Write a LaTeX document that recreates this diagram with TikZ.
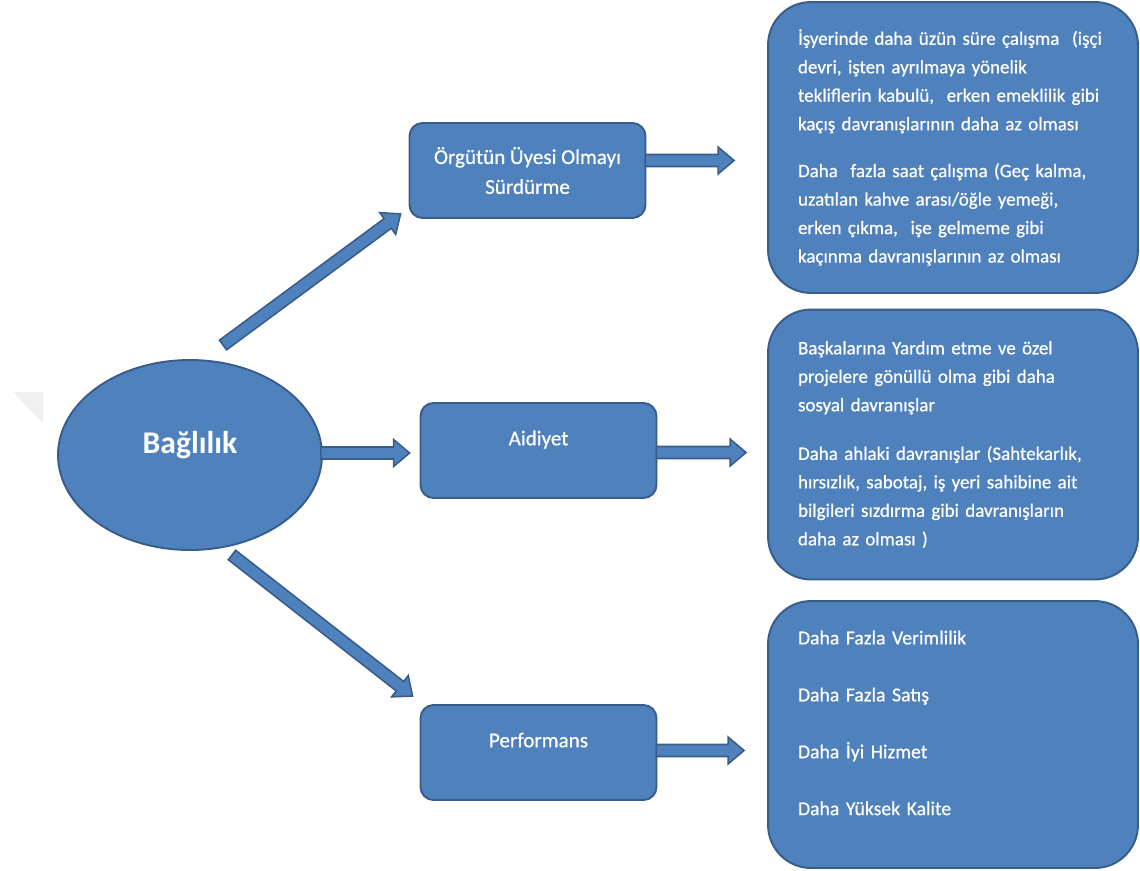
\documentclass[tikz,border=0pt]{standalone}
\usepackage{fontspec}
\setmainfont{Carlito}[FakeBold=0.5]
\newfontfamily\bodyfont{Carlito}[FakeBold=0.6,
  BoldFont=Carlito Bold, BoldFeatures={FakeBold=0}]
\usetikzlibrary{shapes.geometric,calc}

\definecolor{boxfill}{HTML}{4F81BD}
\definecolor{boxedge}{HTML}{385D8A}
\definecolor{markgrey}{HTML}{F0F0F0}

% Block arrow drawn as a polygon from #1 to #2 (tip at #2)
\newcommand\blockarrow[2]{%
  \filldraw[arrowbody] let \p1=#1, \p2=#2,
      \n1={atan2(\y2-\y1,\x2-\x1)}, \n2={veclen(\x2-\x1,\y2-\y1)} in
    ($(\p1)+(\n1+90:0.12cm)$)
    -- ($(\p1)+(\n1:{\n2*1pt-0.32cm})+(\n1+90:0.12cm)$)
    -- ($(\p1)+(\n1:{\n2*1pt-0.32cm})+(\n1+90:0.27cm)$)
    -- (\p2)
    -- ($(\p1)+(\n1:{\n2*1pt-0.32cm})+(\n1-90:0.27cm)$)
    -- ($(\p1)+(\n1:{\n2*1pt-0.32cm})+(\n1-90:0.12cm)$)
    -- ($(\p1)+(\n1-90:0.12cm)$) -- cycle;
}

\begin{document}
\begin{tikzpicture}[x=0.02cm, y=-0.02cm,
  base/.style={fill=boxfill, draw=boxedge, line width=1.1pt, text=white},
  arrowbody/.style={fill=boxfill, draw=boxedge, line width=0.9pt, line join=miter},
  midbox/.style={base, rounded corners=0.26cm, minimum width=4.72cm,
    minimum height=1.9cm, align=center, inner sep=0pt,
    font=\bodyfont\fontsize{12}{17}\selectfont},
  outbox/.style={base, rounded corners=0.86cm, minimum width=7.4cm,
    text width=6.2cm, inner xsep=0.6cm, inner ysep=0pt, align=left,
    font=\bodyfont\fontsize{10.8}{16.2}\selectfont},
  hub/.style={base, ellipse, minimum width=5.28cm, minimum height=3.8cm,
    inner sep=0pt, font=\bodyfont\bfseries\fontsize{18}{20}\selectfont}
]
\useasboundingbox (0,0) rectangle (1140,870);

% faint corner mark at the left edge
\fill[markgrey] (13,392) -- (43,392) -- (43,423) -- cycle;

% central ellipse
\node[hub] (bag) at (190,455) {\raisebox{0.52cm}{Bağlılık}};

% middle column
\node[midbox] (org) at (527.5,170.5) {Örgütün Üyesi Olmayı\\Sürdürme};
\node[midbox] (aid) at (538.5,450.5) {\raisebox{0.5cm}{Aidiyet}};
\node[midbox] (perf) at (538.5,752.5) {\raisebox{0.5cm}{Performans}};

% right column
\node[outbox, minimum height=5.82cm] (r1) at (953,147.5) {%
İşyerinde daha üzün süre çalışma \ (işçi\\
devri, işten ayrılmaya yönelik\\
tekliflerin kabulü, \ erken emeklilik gibi\\
kaçış davranışlarının daha az olması\\[10.5pt]
Daha \ fazla saat çalışma (Geç kalma,\\
uzatılan kahve arası/öğle yemeği,\\
erken çıkma, \ işe gelmeme gibi\\
kaçınma davranışlarının az olması};

\node[outbox, minimum height=5.4cm] (r2) at (953,444.5) {%
Başkalarına Yardım etme ve özel\\
projelere gönüllü olma gibi daha\\
sosyal davranışlar\\[11.5pt]
Daha ahlaki davranışlar (Sahtekarlık,\\
hırsızlık, sabotaj, iş yeri sahibine ait\\
bilgileri sızdırma gibi davranışların\\
daha az olması )};

\node[outbox, minimum height=5.34cm, font=\bodyfont\fontsize{11.2}{16.2}\selectfont] (r3) at (953,734.5) {%
Daha Fazla Verimlilik\\[16.2pt]
Daha Fazla Satış\\[16.2pt]
Daha İyi Hizmet\\[16.2pt]
Daha Yüksek Kalite\\[-3pt]\mbox{}};

% connectors
\coordinate (t1) at ($(bag.center)+(33,-110)$);
\coordinate (t3) at ($(bag.center)+(42,100)$);
\blockarrow{(t1)}{($(org.south west)+(-8,-5)$)}
\blockarrow{($(bag.east)+(-2,-2)$)}{($(bag.east -| aid.west)+(-10,-2)$)}
\blockarrow{(t3)}{($(perf.north west)+(-7,-8)$)}
\blockarrow{($(org.east)+(-1,-10)$)}{($(org.east -| r1.west)+(-33,-10)$)}
\blockarrow{($(aid.east)+(-1,2)$)}{($(aid.east -| r2.west)+(-21,2)$)}
\blockarrow{($(perf.east)+(-1,-2)$)}{($(perf.east -| r3.west)+(-23,-2)$)}
\end{tikzpicture}
\end{document}
